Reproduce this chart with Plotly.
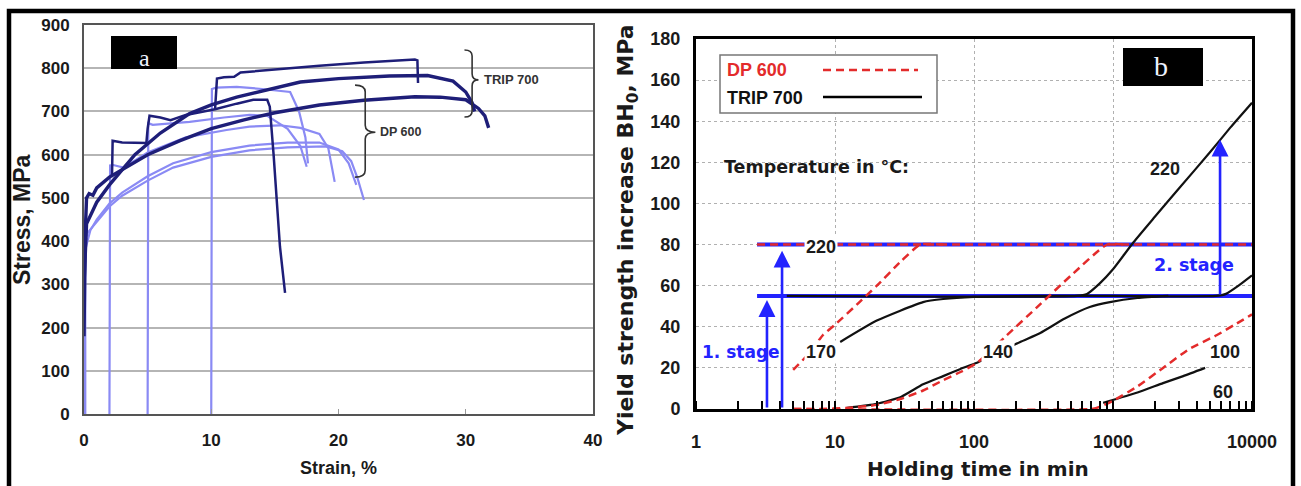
import numpy as np
import plotly.graph_objects as go

W, H = 1301, 486
FONT = "Liberation Sans, Arial, sans-serif"
WIDE = "DejaVu Sans, Verdana, sans-serif"

# ---------------- Panel a: stress-strain curves (strain %, stress MPa) ----------------
dark_A_x = [0, 0.1, 0.2, 0.4, 0.7, 1, 2, 3, 5, 7.5, 10, 12.5, 15, 18.5, 22, 26, 28, 30, 31, 31.5, 31.8]
dark_A_y = [180, 420, 500, 510, 506, 523, 548, 566, 600, 632, 660, 680, 697, 715, 726, 734, 733, 727, 707, 690, 662]
dark_B_x = [0, 0.2, 1, 2, 4, 6, 8.3, 10, 12, 14.4, 17, 20, 24, 27, 29, 30, 30.5, 30.7]
dark_B_y = [300, 440, 490, 530, 600, 650, 695, 715, 733, 750, 768, 776, 782, 783, 770, 745, 720, 700]
dark_E_x = [2.2, 2.25, 3, 4.9, 5.0, 5.15, 6, 6.8, 8, 10.3, 12, 13.3, 14.4, 14.6, 14.9, 15.4, 15.8]
dark_E_y = [548, 632, 628, 627, 660, 690, 686, 680, 692, 705, 718, 727, 727, 711, 600, 387, 280]
dark_S_x = [10.3, 10.35, 10.45, 11, 11.8, 12.3, 15, 18.5, 22, 26, 26.2, 26.25]
dark_S_y = [705, 740, 776, 779, 780, 790, 797, 806, 813, 820, 818, 766]

light_A_x = [0.05, 0.05, 0.3, 1, 2, 3, 5, 7, 10, 13, 16, 19, 20.3, 21, 21.5, 22]
light_A_y = [0, 400, 420, 445, 480, 505, 540, 570, 595, 610, 617, 619, 608, 585, 545, 495]
light_B_x = [0.1, 0.1, 0.5, 1, 2, 3, 5, 7, 10, 13, 16, 18.5, 20, 20.8, 21.4]
light_B_y = [0, 380, 425, 450, 487, 512, 550, 580, 606, 621, 628, 628, 612, 580, 530]
light_C_x = [2.0, 2.05, 2.3, 3.1, 5, 8, 11.2, 13, 15.4, 17, 18.5, 19.2, 19.7]
light_C_y = [0, 575, 576, 570, 605, 640, 657, 665, 668, 662, 648, 615, 537]
light_D_x = [5.0, 5.05, 5.4, 8.3, 11, 13, 14.4, 16, 17, 17.5]
light_D_y = [0, 673, 669, 676, 686, 692, 690, 660, 620, 572]
light_E_x = [10.0, 10.05, 10.4, 12, 14, 16.2, 16.9, 17.4, 17.6]
light_E_y = [0, 752, 755, 757, 752, 745, 700, 640, 580]

a_xticks = [0, 10, 20, 30, 40]
a_yticks = [0, 100, 200, 300, 400, 500, 600, 700, 800, 900]

# ---------------- Panel b: bake hardening (min, MPa) ----------------
b_xticks = [1, 10, 100, 1000, 10000]
b_xticktext = ["1", "10", "100", "1000", "10000"]
b_yticks = [0, 20, 40, 60, 80, 100, 120, 140, 160, 180]

stage_start = 2.75
stage1_level = 55
stage2_level = 80

dp220_x = [stage_start, 10000]
dp220_y = [80, 80]
dp170_x = [5, 6.5, 8.2, 10, 15, 20, 30, 41, 60]
dp170_y = [19, 27, 36, 41, 52, 60, 72, 80, 80]
dp140_x = [5, 8, 12, 20, 30, 43, 60, 80, 105, 167, 300, 500, 906, 1200]
dp140_y = [0, 0, 0.5, 2, 5, 9, 14, 18, 22.4, 35, 51, 65, 80, 80]
dp100_x = [5, 700, 800, 1000, 1500, 2290, 3500, 5600, 7500, 10000]
dp100_y = [0, 0, 1, 4, 11, 20, 29, 36, 41, 46]

trip220_x = [4.5, 550, 650, 800, 1000, 1400, 2000, 3000, 5000, 7000, 10000]
trip220_y = [55, 55, 56, 61, 68, 81, 93.5, 107.5, 125, 137, 149]
trip170_x = [10.9, 20, 43, 60, 100, 300, 1000, 5500, 6500, 8000, 10000]
trip170_y = [32.6, 43, 52, 53.5, 54.5, 55, 55, 55, 56, 60, 65]
trip140_x = [12, 20, 30, 43, 60, 80, 105, 215, 300, 450, 680, 950, 1500, 2500]
trip140_y = [0.5, 2.5, 6, 12, 16, 19.5, 22.5, 32.6, 37, 44, 49.6, 52, 54, 55]
trip60_x = [850, 1500, 2290, 3200, 4600]
trip60_y = [3, 8, 12.6, 16, 20]

arrows = [  # (x, y_from, y_to)
    (3.24, 0, 53),
    (4.16, 0, 77),
    (5890, 55, 131),
]

NAVY = "#1e1e78"
LIGHT = "#8a8af4"
BLUE = "#2323ff"
RED = "#e32b2b"

fig = go.Figure()


def add(x, y, xa, ya, color, width, dash="solid", shape="linear"):
    fig.add_trace(go.Scatter(x=x, y=y, xaxis=xa, yaxis=ya, mode="lines",
                             line=dict(color=color, width=width, dash=dash, shape=shape,
                                       smoothing=0.5 if shape == "spline" else None),
                             showlegend=False, hoverinfo="skip"))


for lx, ly in [(light_A_x, light_A_y), (light_B_x, light_B_y), (light_C_x, light_C_y),
               (light_D_x, light_D_y), (light_E_x, light_E_y)]:
    add(lx, ly, "x", "y", LIGHT, 2.2)
add(dark_A_x, dark_A_y, "x", "y", NAVY, 3.4)
add(dark_B_x, dark_B_y, "x", "y", NAVY, 3.4)
add(dark_E_x, dark_E_y, "x", "y", NAVY, 2.5)
add(dark_S_x, dark_S_y, "x", "y", NAVY, 2.5)

# panel b
add([stage_start, 10000], [stage2_level, stage2_level], "x2", "y2", BLUE, 4)
add([stage_start, 10000], [stage1_level, stage1_level], "x2", "y2", BLUE, 4)
add(trip220_x, trip220_y, "x2", "y2", "#111111", 2.2, shape="spline")
add(trip170_x, trip170_y, "x2", "y2", "#111111", 2.2, shape="spline")
add(trip140_x, trip140_y, "x2", "y2", "#111111", 2.2, shape="spline")
add(trip60_x, trip60_y, "x2", "y2", "#111111", 2.2, shape="spline")
add(dp220_x, dp220_y, "x2", "y2", RED, 2.6, dash="8px,5px")
add(dp170_x, dp170_y, "x2", "y2", RED, 2.5, dash="8px,5px", shape="spline")
add(dp140_x, dp140_y, "x2", "y2", RED, 2.5, dash="8px,5px", shape="spline")
add(dp100_x, dp100_y, "x2", "y2", RED, 2.5, dash="8px,5px", shape="spline")


def px(xp):
    return xp / W


def py(yp):
    return 1 - yp / H


tickfont_a = dict(family=FONT, size=17, color="#1a1a1a", weight="bold")
tickfont_b = dict(family=FONT, size=18, color="#1a1a1a", weight="bold")

layout = dict(
    width=W, height=H, margin=dict(l=0, r=0, t=0, b=0, pad=0, autoexpand=False),
    paper_bgcolor="white", plot_bgcolor="white", showlegend=False,
    xaxis=dict(domain=[px(84), px(593)], range=[0, 40], tickvals=a_xticks,
               showgrid=False, zeroline=False, showline=True, linecolor="#555",
               linewidth=2, mirror=True, ticks="inside", ticklen=5, tickcolor="#999",
               tickfont=tickfont_a, ticklabelstandoff=10, anchor="y", automargin=False),
    yaxis=dict(domain=[1 - 414 / H, 1 - 25 / H], range=[0, 900], tickvals=a_yticks,
               showgrid=True, gridcolor="#b5b5b5", gridwidth=2, zeroline=False,
               showline=True, linecolor="#555", linewidth=2, mirror=True, ticks="",
               tickfont=tickfont_a, ticklabelstandoff=9, anchor="x", automargin=False),
    xaxis2=dict(domain=[px(696), px(1252)], type="log", range=[0, 4],
                tickvals=b_xticks, ticktext=b_xticktext,
                showgrid=True, gridcolor="#b0b0b0", griddash="dot", gridwidth=1.3,
                zeroline=False, showline=True, linecolor="black", linewidth=3, mirror=True,
                ticks="", tickfont=tickfont_b, ticklabelstandoff=14,
                minor=dict(ticks="inside", ticklen=8, tickwidth=1.5, tickcolor="black",
                           dtick="D1", showgrid=False),
                anchor="y2", automargin=False),
    yaxis2=dict(domain=[1 - 409 / H, 1 - 39 / H], range=[0, 180], tickvals=b_yticks,
                showgrid=True, gridcolor="#b0b0b0", griddash="dot", gridwidth=1.3,
                zeroline=False, showline=True, linecolor="black", linewidth=3, mirror=True,
                ticks="", tickfont=tickfont_b, ticklabelstandoff=9, anchor="x2",
                automargin=False),
)
fig.update_layout(**layout)

shapes = []
# outer frame
shapes.append(dict(type="rect", xref="paper", yref="paper", x0=px(9), x1=px(1293),
                   y0=py(495), y1=py(11), line=dict(color="black", width=4.5),
                   fillcolor="rgba(0,0,0,0)", layer="above"))
# label boxes
shapes.append(dict(type="rect", xref="paper", yref="paper", x0=px(111), x1=px(177),
                   y0=py(69), y1=py(36), fillcolor="black", line=dict(width=0)))
shapes.append(dict(type="rect", xref="paper", yref="paper", x0=px(1123), x1=px(1203),
                   y0=py(86), y1=py(48), fillcolor="black", line=dict(width=0)))
# braces (panel a, data coords)
shapes.append(dict(type="path", xref="x", yref="y",
                   path="M 29.9,842 Q 30.5,842 30.5,828 L 30.5,787 Q 30.5,773 31.0,773 "
                        "Q 30.5,773 30.5,759 L 30.5,701 Q 30.5,687 29.9,687",
                   line=dict(color="#333", width=1.6)))
shapes.append(dict(type="path", xref="x", yref="y",
                   path="M 21.3,761 Q 22.1,761 22.1,745 L 22.1,668 Q 22.1,652 22.9,652 "
                        "Q 22.1,652 22.1,636 L 22.1,564 Q 22.1,548 21.3,548",
                   line=dict(color="#333", width=1.6)))
# legend box panel b
shapes.append(dict(type="rect", xref="paper", yref="paper", x0=px(720), x1=px(937),
                   y0=py(113), y1=py(55), line=dict(color="#777", width=1.5),
                   fillcolor="white"))
shapes.append(dict(type="line", xref="paper", yref="paper", x0=px(823), x1=px(918),
                   y0=py(70), y1=py(70), line=dict(color=RED, width=2.6, dash="8px,5px")))
shapes.append(dict(type="line", xref="paper", yref="paper", x0=px(823), x1=px(922),
                   y0=py(97), y1=py(97), line=dict(color="black", width=2.6)))
fig.update_layout(shapes=shapes)

ann = []


def txt(x, y, text, size, color="#1a1a1a", xref="paper", yref="paper", xanchor="center",
        angle=0, bg=None, family=FONT, weight="bold"):
    d = dict(x=x, y=y, xref=xref, yref=yref, text=text, showarrow=False,
             xanchor=xanchor, yanchor="middle", textangle=angle,
             font=dict(family=family, size=size, color=color, weight=weight))
    if bg:
        d["bgcolor"] = bg
        d["borderpad"] = 1
    ann.append(d)


txt(px(22), py(220), "Stress, MPa", 23, angle=-90)
txt(px(338), py(468), "Strain, %", 18)
txt(px(628), py(230), "Yield strength increase BH<sub>0</sub>, MPa", 22, angle=-90, family=WIDE)
txt(px(978), py(469), "Holding time in min", 20, family=WIDE)
txt(px(144), py(58), "a", 24, color="#eef3ff", family="Liberation Serif, Times New Roman, serif",
    weight="normal")
txt(px(1161), py(67), "b", 28, color="#eef3ff", family="Liberation Serif, Times New Roman, serif",
    weight="normal")
txt(31.3, 773, "TRIP 700", 13, color="#333", xref="x", yref="y", xanchor="left")
txt(23.1, 652, "DP 600", 12.5, color="#333", xref="x", yref="y", xanchor="left")
txt(px(725), py(70), "DP 600", 18, color=RED, xanchor="left")
txt(px(725), py(98), "TRIP 700", 18, color="#111", xanchor="left")
L = np.log10
txt(L(1.54), 117.7, "Temperature in °C:", 17.5, xref="x2", yref="y2", xanchor="left", family=WIDE)
txt(L(7.93), 79, "220", 18, xref="x2", yref="y2", bg="white")
txt(L(7.93), 27.7, "170", 18, xref="x2", yref="y2", bg="white")
txt(L(149), 27.7, "140", 18, xref="x2", yref="y2", bg="white")
txt(L(6390), 27.7, "100", 18, xref="x2", yref="y2")
txt(L(6170), 8.3, "60", 18, xref="x2", yref="y2")
txt(L(2366), 117, "220", 18, xref="x2", yref="y2")
txt(L(1.07), 27.7, "1. stage", 17, color=BLUE, xref="x2", yref="y2", xanchor="left", family=WIDE)
txt(L(1910), 70, "2. stage", 17.5, color=BLUE, xref="x2", yref="y2", xanchor="left", family=WIDE)

for (axx, y0, y1) in arrows:
    ann.append(dict(x=L(axx), y=y1, ax=L(axx), ay=y0, xref="x2", yref="y2",
                    axref="x2", ayref="y2", showarrow=True, arrowhead=2, arrowsize=1.3,
                    arrowwidth=2.6, arrowcolor=BLUE, text="", standoff=0))

fig.update_layout(annotations=ann)
fig.write_html("out.html")
